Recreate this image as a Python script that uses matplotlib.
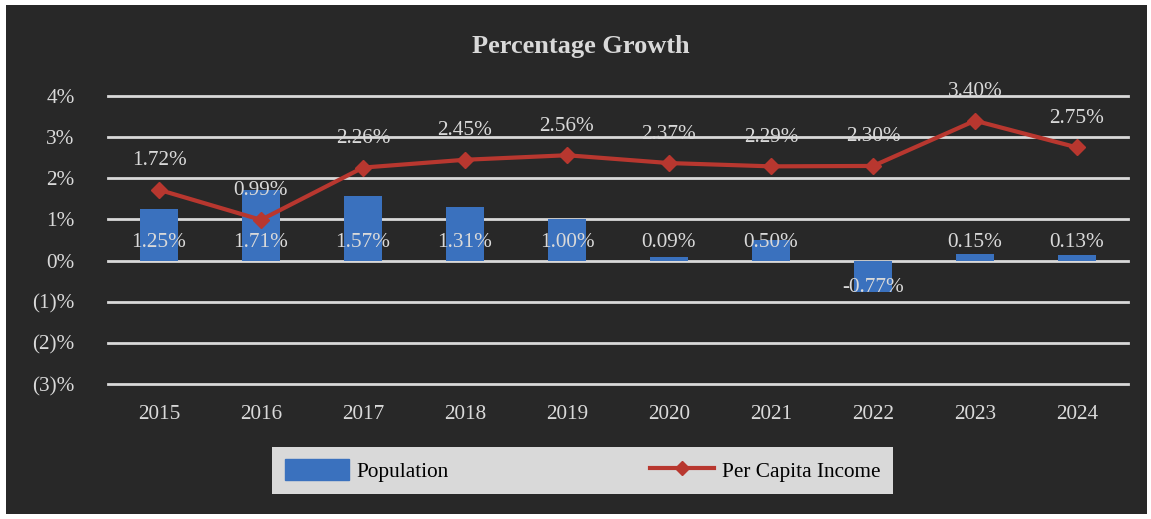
import numpy as np
import matplotlib.pyplot as plt
from matplotlib.patches import Rectangle
from matplotlib.lines import Line2D

years = ['2015', '2016', '2017', '2018', '2019', '2020', '2021', '2022', '2023', '2024']
population = [1.25, 1.71, 1.57, 1.31, 1.00, 0.09, 0.50, -0.77, 0.15, 0.13]
income = [1.72, 0.99, 2.26, 2.45, 2.56, 2.37, 2.29, 2.30, 3.40, 2.75]
ytick_vals = [-3, -2, -1, 0, 1, 2, 3, 4]
ytick_labels = ['(3)%', '(2)%', '(1)%', '0%', '1%', '2%', '3%', '4%']

bg = '#282828'
txt = '#d9d9d9'
blue = '#3a71be'
red = '#b8372f'
fs = 15.3
plt.rcParams['font.family'] = ['Liberation Serif', 'DejaVu Serif']

W, H = 1151, 519
fig = plt.figure(figsize=(W / 100, H / 100), dpi=100, facecolor='white')
fig.patches.append(Rectangle((6 / W, 5 / H), (1147 - 6) / W, (514 - 5) / H,
                             transform=fig.transFigure, facecolor=bg, edgecolor='none', zorder=-5))

ax = fig.add_axes([108 / W, 1 - 384 / H, (1128 - 108) / W, (384 - 96) / H])
ax.set_facecolor('none')
ax.set_zorder(2)
x = np.arange(len(years))

for v in ytick_vals:
    ax.axhline(v, color=txt, lw=2, clip_on=False, zorder=1)

ax.bar(x, population, width=0.37, color=blue, zorder=2)
ax.plot(x, income, color=red, lw=3, marker='D', markersize=8, zorder=3)

# bar labels sit near the zero line, line labels above the markers
for i, v in enumerate(population):
    off = 18 if v >= 0 else -27
    ax.annotate(f'{v:.2f}%', (x[i], 0), xytext=(0, off), textcoords='offset pixels',
                ha='center', va='center', color=txt, fontsize=fs, zorder=4)
for i, v in enumerate(income):
    ax.annotate(f'{v:.2f}%', (x[i], v), xytext=(0, 29), textcoords='offset pixels',
                ha='center', va='center', color=txt, fontsize=fs, zorder=4)

ax.set_xlim(-0.5, len(years) - 0.5)
ax.set_ylim(-3, 4)
ax.set_xticks(x)
ax.set_xticklabels(years)
ax.set_yticks(ytick_vals)
ax.set_yticklabels(ytick_labels)
ax.tick_params(axis='x', length=0, pad=15, colors=txt, labelsize=fs)
ax.tick_params(axis='y', length=0, pad=24, colors=txt, labelsize=fs)
for s in ax.spines.values():
    s.set_visible(False)

fig.text(581 / W, 1 - 46 / H, 'Percentage Growth', ha='center', va='center',
         color=txt, fontsize=19, fontweight='bold')

handles = [Rectangle((0, 0), 1, 1, color=blue),
           Line2D([0], [0], color=red, lw=3, marker='D', markersize=7)]
leg = fig.legend(handles, ['Population', 'Per Capita Income'], loc='center',
                 bbox_to_anchor=(582.5 / W, 1 - 470.5 / H), ncol=2, frameon=True,
                 fancybox=False, facecolor='#d9d9d9', edgecolor='none', framealpha=1,
                 fontsize=fs, handlelength=3, handleheight=1.1, handletextpad=0.35,
                 columnspacing=9.5, borderpad=0.6, borderaxespad=0)
for t in leg.get_texts():
    t.set_color('black')

fig.savefig('out.png', dpi=100, facecolor='white')
